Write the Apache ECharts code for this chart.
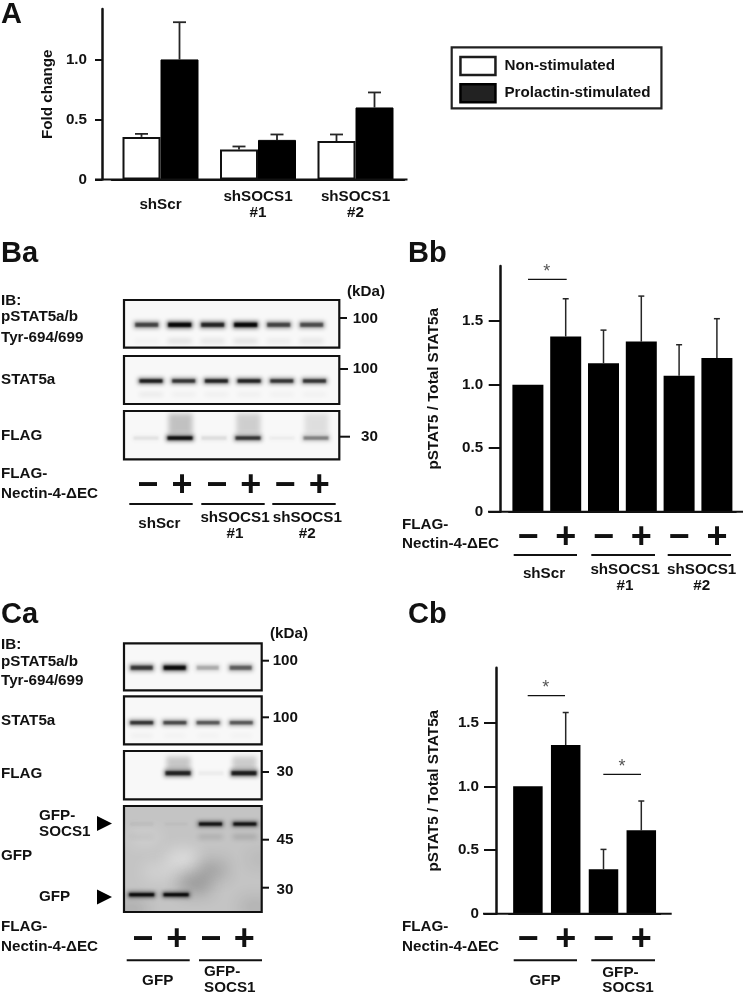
<!DOCTYPE html>
<html><head><meta charset="utf-8">
<style>html,body{margin:0;padding:0;background:#fff}#c{width:745px;height:994px}</style>
<script src="https://cdn.jsdelivr.net/npm/echarts@6/dist/echarts.min.js"></script>
</head><body><div id="c"></div>
<script>
// ---------- data ----------
const aCategories = ['shScr', 'shSOCS1\n#1', 'shSOCS1\n#2'];
const aNonStim = [0.355, 0.25, 0.32];
const aNonStimTop = [0.38, 0.275, 0.375];
const aProlactin = [1.0, 0.33, 0.6];
const aProlactinTop = [1.31, 0.375, 0.725];

const bbTreatment = ['−', '+', '−', '+', '−', '+'];
const bbValues = [1.0, 1.38, 1.17, 1.34, 1.07, 1.21];
const bbTops = [null, 1.677, 1.43, 1.698, 1.315, 1.52];

const cbTreatment = ['−', '+', '−', '+'];
const cbValues = [1.0, 1.325, 0.35, 0.655];
const cbTops = [null, 1.58, 0.505, 0.885];

// band intensity per lane
const baPstat = [0.62, 0.98, 0.78, 0.98, 0.62, 0.58];
const baPstatFaint = [0.04, 0.12, 0.1, 0.12, 0.07, 0.1];
const baStatFull = [0.85, 0.72, 0.82, 0.82, 0.72, 0.72];
const baStatFaint = [0.09, 0.06, 0.06, 0.06, 0.05, 0.05];
const baFlag = [0.06, 0.95, 0.08, 0.72, 0.03, 0.38];
const baFlagSmear = [0, 0.22, 0, 0.17, 0, 0.1];
const caPstat = [0.68, 0.95, 0.22, 0.5];
const caStat = [0.72, 0.62, 0.55, 0.55];
const caStatFaint = [0.06, 0.04, 0.04, 0.04];
const caFlag = [0, 0.78, 0.03, 0.82];
const caFlagSmear = [0, 0.2, 0, 0.18];
const caGfpUpper = [0.03, 0.02, 0.92, 0.92];
const caGfpUpperFaint = [0.05, 0, 0.14, 0.18];
const caGfpLower = [0.98, 0.98, 0, 0];
// background patches of the GFP blot: lane, height in panel, tone (negative = lighter)
const gfpCloudLane = [1.2, 0.1, 2.05, 1.55, 3.3, -0.3, 3.5, 0.5];
const gfpCloudY = [0.5, 0.3, 0.6, 0.74, 0.95, 0.97, 0.5, 0.62];
const gfpCloudTone = [-0.45, -0.2, 0.16, 0.22, 0.1, 0.12, 0.05, -0.25];

const kda = { unit: '(kDa)', hundred: '100', thirty: '30', fortyFive: '45' };

// ---------- layout & style ----------
const FONT = '"Liberation Sans", Arial, sans-serif';
const INK = '#111';
const FS = 15.2;
const txt = (t, x, y, o = {}) => ({ type: 'text', x, y, silent: true, style: Object.assign({
  text: t, font: `bold ${o.size || FS}px ${FONT}`, fill: INK, align: o.align || 'left', verticalAlign: 'middle' }, o.style || {}) });
const ln = (x1, y1, x2, y2, w = 2) => ({ type: 'line', silent: true, shape: { x1, y1, x2, y2 }, style: { stroke: '#111', lineWidth: w } });
const tri = (x1, x2, y, h) => ({ type: 'polygon', silent: true, shape: { points: [[x1, y - h / 2], [x2, y], [x1, y + h / 2]] }, style: { fill: '#000' } });
const star = (x, y) => txt('*', x, y + 3, { align: 'center', size: 18, style: { font: `18px ${FONT}`, fill: '#555' } });
const sign = (t, x, y) => txt(t, x, y, { align: 'center', size: 36 });
const signs = (xs, y) => xs.map((x, i) => sign(i % 2 ? '+' : '−', x, y));

const graphics = [
  txt('A', 1, 15, { size: 29 }), txt('Ba', 1, 254, { size: 29 }), txt('Bb', 408, 254, { size: 29 }),
  txt('Ca', 1, 615, { size: 29 }), txt('Cb', 408, 615, { size: 29 }),
  // baselines reaching past the plot areas
  ln(95, 179.5, 407.5, 179.5, 2), ln(488, 511.7, 743, 511.7, 2), ln(483, 913.7, 671.7, 913.7, 2),
  // Bb notes
  txt('FLAG-', 402, 525), txt('Nectin-4-ΔEC', 402, 544),
  ln(513.7, 555, 577, 555), ln(591.3, 555, 655, 555), ln(667.7, 555, 731, 555),
  txt('shScr', 544, 574, { align: 'center' }), txt('shSOCS1', 625, 570, { align: 'center' }), txt('#1', 625, 586, { align: 'center' }),
  txt('shSOCS1', 701.7, 570, { align: 'center' }), txt('#2', 701.7, 586, { align: 'center' }),
  ln(528, 279.3, 566.7, 279.3, 1.2), star(546.7, 269),
  // Cb notes
  txt('FLAG-', 402, 927), txt('Nectin-4-ΔEC', 402, 947),
  ln(513.7, 960.3, 577, 960.3), ln(591.3, 960.3, 655, 960.3),
  txt('GFP', 545, 981, { align: 'center' }), txt('GFP-', 602.3, 972.5), txt('SOCS1', 602.3, 988),
  ln(527.7, 695.7, 565, 695.7, 1.2), star(545.7, 685), ln(603.3, 774.3, 641, 774.3, 1.2), star(622, 764),
  // Ba notes
  txt('(kDa)', 347, 292), txt('IB:', 1, 301), txt('pSTAT5a/b', 1, 317), txt('Tyr-694/699', 1, 338), txt('STAT5a', 1, 380), txt('FLAG', 1, 436),
  txt('FLAG-', 1, 473.5), txt('Nectin-4-ΔEC', 1, 493.5),
  ln(339, 318, 347, 318), ln(339, 369, 348, 369), ln(339, 436.7, 350, 436.7),
  txt(kda.hundred, 378, 319, { align: 'right' }), txt(kda.hundred, 378, 369, { align: 'right' }), txt(kda.thirty, 378, 437, { align: 'right' }),
  ...signs([147.7, 182, 216.7, 250.7, 285, 319.3], 486),
  ln(129.3, 504, 192.7, 504), ln(201.3, 504, 264.7, 504), ln(272.3, 504, 335.7, 504),
  txt('shScr', 159.3, 523.5, { align: 'center' }), txt('shSOCS1', 235, 517.5, { align: 'center' }), txt('#1', 235, 534, { align: 'center' }),
  txt('shSOCS1', 307.3, 517.5, { align: 'center' }), txt('#2', 307.3, 534, { align: 'center' }),
  // Ca notes
  txt('(kDa)', 270, 634), txt('IB:', 1, 645), txt('pSTAT5a/b', 1, 662), txt('Tyr-694/699', 1, 681), txt('STAT5a', 1, 721), txt('FLAG', 1, 773.5),
  txt('GFP-', 39, 816), txt('SOCS1', 39, 832), txt('GFP', 1, 856), txt('GFP', 39, 897),
  tri(97, 112, 823.5, 15), tri(97, 112, 897, 15),
  txt('FLAG-', 1, 927), txt('Nectin-4-ΔEC', 1, 947),
  ln(261.7, 660.7, 269, 660.7), ln(261.7, 717.3, 269, 717.3), ln(261.7, 772, 269, 772), ln(261.7, 839.7, 269, 839.7), ln(261.7, 887.7, 269, 887.7),
  txt(kda.hundred, 298, 661, { align: 'right' }), txt(kda.hundred, 298, 717.5, { align: 'right' }), txt(kda.thirty, 293.5, 772, { align: 'right' }),
  txt(kda.fortyFive, 293.5, 840, { align: 'right' }), txt(kda.thirty, 293.5, 890, { align: 'right' }),
  ...signs([142.7, 176.7, 210.7, 244.3], 940),
  ln(126.7, 960.3, 189.7, 960.3), ln(199, 960.3, 262, 960.3),
  txt('GFP', 157.7, 981, { align: 'center' }), txt('GFP-', 204, 972), txt('SOCS1', 204, 988)
];

const labelFont = { fontFamily: FONT, fontWeight: 'bold', fontSize: FS, color: INK };
const plotGrids = [
  { left: 111.75, top: 9, width: 292.5, height: 170.5 },
  { left: 509, top: 266, width: 226.8, height: 245.7 },
  { left: 509, top: 667.7, width: 151.2, height: 246 }
];
const xBase = (gridIndex, data, extra) => Object.assign({ type: 'category', gridIndex, data,
  axisTick: { show: false }, axisLine: { show: true, onZero: false, lineStyle: { color: '#111', width: 2 } } }, extra);
const yBase = (gridIndex, max, offset, tick, margin, name, gap) => ({ type: 'value', gridIndex, min: 0, max, offset,
  name, nameLocation: 'middle', nameGap: gap, nameMoveOverlap: false, nameTextStyle: labelFont,
  splitLine: { show: false },
  axisLine: { show: true, lineStyle: { color: '#111', width: 2.5 } },
  axisTick: { show: true, length: tick, customValues: [0, 0.5, 1, 1.5].filter(v => v <= max), lineStyle: { color: '#111', width: 2 } },
  axisLabel: { ...labelFont, margin, customValues: [0, 0.5, 1, 1.5].filter(v => v <= max), formatter: v => v === 0 ? '0' : v.toFixed(1) } });

const signAxis = { axisLabel: { fontFamily: FONT, fontWeight: 'bold', fontSize: 36, color: INK, margin: 26.5, verticalAlign: 'middle', interval: 0 } };

// error whiskers
function whisker(xi, yi, values, tops, offset, cap, width) {
  const data = tops.map((t, i) => t == null ? null : [i, values[i], t]).filter(Boolean);
  return { type: 'custom', xAxisIndex: xi, yAxisIndex: yi, silent: true, z: 1, data, encode: { x: 0, y: 2 },
    renderItem(p, api) {
      const a = api.coord([api.value(0), api.value(1)]), b = api.coord([api.value(0), api.value(2)]);
      const x = a[0] + offset, st = { stroke: '#262626', lineWidth: width };
      return { type: 'group', children: [
        { type: 'line', shape: { x1: x, y1: a[1], x2: x, y2: b[1] }, style: st },
        { type: 'line', shape: { x1: x - cap, y1: b[1], x2: x + cap, y2: b[1] }, style: st }
      ] };
    } };
}

// blots
const blots = [
  { x: 124, y: 300, w: 215.3, h: 47.7, x0: 146.7, dx: 33 },
  { x: 124, y: 356, w: 215.3, h: 48, x0: 151, dx: 32.7 },
  { x: 124, y: 411, w: 215.3, h: 48.3, x0: 146, dx: 34 },
  { x: 124, y: 643.3, w: 137.7, h: 47, x0: 141.7, dx: 33 },
  { x: 124, y: 696.3, w: 137.7, h: 48, x0: 141.7, dx: 33.2 },
  { x: 124, y: 751, w: 137.7, h: 48.3, x0: 145, dx: 33 },
  { x: 124, y: 806, w: 137.7, h: 106, x0: 141.7, dx: 34.4, bg: '#c4c4c4' }
];
const blotGrids = blots.map(b => ({ left: b.x, top: b.y, width: b.w, height: b.h, show: true, z: 0,
  backgroundColor: b.bg || '#f8f8f8', borderColor: '#111', borderWidth: 2.2 }));
const blotX = blots.map((b, i) => ({ type: 'value', gridIndex: 3 + i, show: false, min: (b.x - b.x0) / b.dx, max: (b.x + b.w - b.x0) / b.dx }));
const blotY = blots.map((b, i) => ({ type: 'value', gridIndex: 3 + i, show: false, inverse: true, min: 0, max: 1 }));

// a soft blurred patch: the opaque source rect sits off-canvas, only its shadow lands on the blot
const FAR = 3000;
const blurBox = (cx, cy, w, h, color, blur) => ({ type: 'rect',
  shape: { x: cx - w / 2 - FAR, y: cy - h / 2, width: w, height: h },
  style: { fill: '#000', shadowBlur: blur, shadowOffsetX: FAR, shadowColor: color } });

function bandSeries(blotIdx, values, yFrac, w, h, soft) {
  const data = values.map((v, i) => [i, yFrac, v]).filter(d => d[2] > 0);
  return { type: 'custom', xAxisIndex: 3 + blotIdx, yAxisIndex: 3 + blotIdx, silent: true, z: soft ? 2 : 3, data,
    encode: { x: 0, y: 1 },
    renderItem(p, api) {
      const c = api.coord([api.value(0), api.value(1)]), a = api.value(2);
      if (soft) return blurBox(c[0], c[1], w, h, `rgba(0,0,0,${a})`, 5);
      return { type: 'group', children: [
        blurBox(c[0], c[1], w, h * 1.2, `rgba(0,0,0,${a * 0.6})`, 4),
        blurBox(c[0], c[1], w - 3, h * 0.7, `rgba(0,0,0,${a})`, 2)
      ] };
    } };
}
function cloudSeries(blotIdx, lanes, ys, tones) {
  const data = lanes.map((l, i) => [l, ys[i], tones[i]]);
  return { type: 'custom', xAxisIndex: 3 + blotIdx, yAxisIndex: 3 + blotIdx, silent: true, z: 1, data, encode: { x: 0, y: 1 },
    renderItem(p, api) {
      const c = api.coord([api.value(0), api.value(1)]), t = api.value(2), cs = p.coordSys;
      const col = t < 0 ? `rgba(255,255,255,${-t})` : `rgba(0,0,0,${t})`;
      return Object.assign(blurBox(c[0], c[1], 30, 18, col, 16), {
        clipPath: { type: 'rect', shape: { x: cs.x, y: cs.y, width: cs.width, height: cs.height } } });
    } };
}

const bar = (xi, yi, data, width, extra) => Object.assign({ type: 'bar', xAxisIndex: xi, yAxisIndex: yi, data, barWidth: width, barGap: 0, z: 2, silent: true,
  itemStyle: { color: '#000' } }, extra);

const option = {
  animation: false, backgroundColor: '#fff', textStyle: { fontFamily: FONT },
  grid: [...plotGrids, ...blotGrids],
  xAxis: [
    xBase(0, aCategories, { axisLabel: { ...labelFont, margin: 25, lineHeight: 16, verticalAlign: 'middle', interval: 0 } }),
    xBase(1, bbTreatment, signAxis),
    xBase(2, cbTreatment, signAxis),
    ...blotX
  ],
  yAxis: [
    yBase(0, 1.42, 9.75, 7, 15, 'Fold change', 47),
    yBase(1, 1.935, 8.3, 12, 17.5, 'pSTAT5 / Total STAT5a', 59.5),
    yBase(2, 1.932, 13, 12, 17, 'pSTAT5 / Total STAT5a', 55),
    ...blotY
  ],
  legend: { left: 451.7, top: 47.3, orient: 'vertical', padding: [8.5, 11, 5, 7.5], itemWidth: 35, itemHeight: 18, itemGap: 6.6,
    borderColor: '#222', borderWidth: 2.2, backgroundColor: '#fff', selectedMode: false, icon: 'rect',
    textStyle: { fontFamily: FONT, fontWeight: 'bold', fontSize: 15.2, color: INK, padding: [0, 0, 0, 4] },
    data: [
      { name: 'Non-stimulated', itemStyle: { color: '#fff', borderColor: '#1c1c1c', borderWidth: 2.5 } },
      { name: 'Prolactin-stimulated', itemStyle: { color: '#222', borderColor: '#000', borderWidth: 2.5 } }
    ] },
  graphic: { elements: graphics.map(g => Object.assign({ z: 50 }, g)) },
  series: [
    bar(0, 0, aNonStim, 38, { name: 'Non-stimulated', itemStyle: { color: '#fff', borderColor: '#111', borderWidth: 2 } }),
    bar(0, 0, aProlactin, 38, { name: 'Prolactin-stimulated', itemStyle: { color: '#000', borderColor: '#000', borderWidth: 1 } }),
    whisker(0, 0, aNonStim, aNonStimTop, -19, 6.5, 1.8),
    whisker(0, 0, aProlactin, aProlactinTop, 19, 6.5, 1.8),
    bar(1, 1, bbValues, 31),
    whisker(1, 1, bbValues, bbTops, 0, 3, 1.5),
    bar(2, 2, cbValues, 29.5),
    whisker(2, 2, cbValues, cbTops, 0, 3, 1.5),
    // Ba
    bandSeries(0, baPstat, 0.52, 26, 6),
    bandSeries(0, baPstatFaint, 0.86, 24, 4, true),
    bandSeries(1, baStatFull, 0.52, 26, 5),
    bandSeries(1, baStatFaint, 0.8, 24, 3, true),
    bandSeries(2, baFlagSmear, 0.27, 25, 22, true),
    bandSeries(2, baFlag, 0.56, 28, 5),
    // Ca
    bandSeries(3, caPstat, 0.52, 25, 6),
    bandSeries(4, caStat, 0.55, 26, 5),
    bandSeries(4, caStatFaint, 0.82, 22, 3, true),
    bandSeries(5, caFlagSmear, 0.27, 25, 16, true),
    bandSeries(5, caFlag, 0.46, 28, 6),
    cloudSeries(6, gfpCloudLane, gfpCloudY, gfpCloudTone),
    bandSeries(6, caGfpUpper, 0.17, 26, 4.5),
    bandSeries(6, caGfpUpperFaint, 0.29, 24, 4, true),
    bandSeries(6, caGfpLower, 0.837, 28, 4.5)
  ]
};
const chart = echarts.init(document.getElementById('c'), null, { renderer: 'canvas', width: 745, height: 994 });
chart.setOption(option);
</script></body></html>
